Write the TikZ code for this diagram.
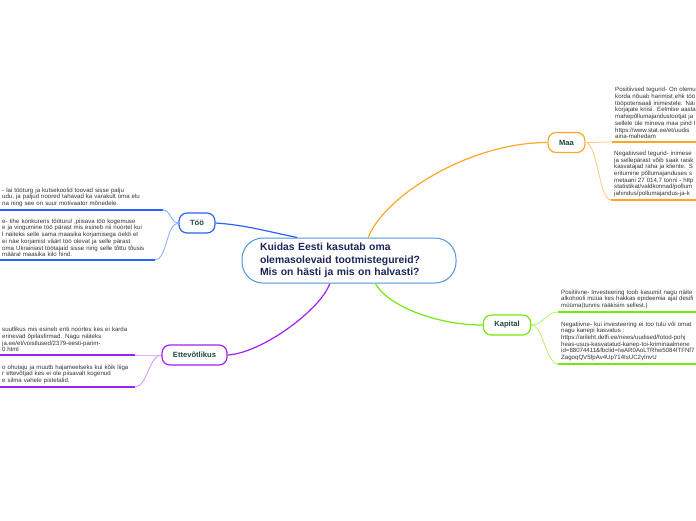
\documentclass[tikz,border=0pt]{standalone}
\usepackage{fontspec}
\setmainfont{Liberation Sans}
\usepackage{tikz}
\definecolor{tooblue}{RGB}{41,98,255}
\definecolor{toolight}{RGB}{135,168,255}
\definecolor{maaorange}{RGB}{255,166,38}
\definecolor{maalight}{RGB}{255,202,125}
\definecolor{kapgreen}{RGB}{118,232,10}
\definecolor{kaplight}{RGB}{178,242,112}
\definecolor{ettpurple}{RGB}{165,30,245}
\definecolor{ettlight}{RGB}{212,145,255}
\definecolor{centerblue}{RGB}{80,150,215}
\definecolor{navytext}{RGB}{28,40,90}
\definecolor{labeltext}{RGB}{30,72,62}
\definecolor{topictext}{RGB}{50,50,50}
\tikzstyle{central} = [rectangle, rounded corners=21pt, minimum width=214pt, minimum height=45pt,
                        draw=centerblue, line width=1pt, fill=white, text=navytext,
                        font=\bfseries\fontsize{10.4}{12.5}\selectfont, text width=178pt, align=left]
\tikzstyle{mainbox} = [rectangle, rounded corners=8pt, minimum height=20pt, inner xsep=11pt,
                        line width=1.2pt, fill=white, text=labeltext,
                        font=\bfseries\fontsize{7.6}{9}\selectfont]
\tikzstyle{topic}   = [anchor=south west, inner xsep=3pt, inner ysep=3pt, text width=170pt,
                        align=left, text=topictext, font=\fontsize{6.1}{6.7}\selectfont]
\tikzstyle{branch}  = [line width=1.2pt]
\tikzstyle{twig}    = [line width=0.8pt]
\tikzstyle{uline}   = [line width=1.8pt]

\begin{document}
\begin{tikzpicture}[x=1pt, y=-1pt]
  \useasboundingbox (0,0) rectangle (696,520);
  \clip (0,0) rectangle (696,520);

  % --- Centre ---
  \node (centre) [central] at (349,260.5)
        {Kuidas Eesti kasutab oma\\olemasolevaid tootmistegureid?\\Mis on hästi ja mis on halvasti?};

  % --- Main topics ---
  \node (tooo)    [mainbox, draw=tooblue]   at (197,223)   {Töö};
  \node (maa)     [mainbox, draw=maaorange] at (566.5,142.5) {Maa};
  \node (kapital) [mainbox, draw=kapgreen]  at (507,325)   {Kapital};
  \node (ettev)   [mainbox, draw=ettpurple] at (194.5,355) {Ettevõtlikus};

  % --- Töö ---
  \node (tt1) [topic] at (-1,210)
        {- lai tööturg ja kutsekoolid toovad sisse palju\\
         udu, ja paljud noored tahavad ka varakult oma elu\\
         na ning see on suur motivaator mõnedele.};
  \coordinate (tt1end) at (163,210);
  \node (tt2) [topic] at (-1,260)
        {e- tihe konkurens tööturul ,piisava töö kogemuse\\
         e ja vingumine töö pärast mis esineb nii noortel kui\\
         l näiteks selle sama maasika korjamisega öeldi et\\
         ei näe korjamist väärt töö olevat ja selle pärast\\
         oma Ukrainiast töötajaid sisse ning selle tõttu tõusis\\
         määral maasika kilo hind.};
  \coordinate (tt2end) at (155,260);

  % --- Maa ---
  \node (mt1) [topic, text width=110pt] at (612,142)
        {Positiivsed tegurid- On olemu\\
         korda nõuab harimist ehk töö\\
         tööpotensaali inimestele. Näi\\
         korjajate kriisi. Eelmise aasta\\
         mahepõllumajandustootjat ja\\
         sellele üle mineva maa pind l\\
         https://www.stat.ee/et/uudis\\
         aina-mahedam};
  \node (mt2) [topic, text width=110pt] at (611,200)
        {Negatiivsed tegurid-  inimese\\
         ja sellepärast  võib saak raisk\\
         kasvatajad raha ja kliente. S\\
         eritumine põllumajanduses s\\
         metaani 27 014,7 tonni - http\\
         statistikat/valdkonnad/pollum\\
         jahindus/pollumajandus-ja-k};

  % --- Kapital ---
  \node (kt1) [topic, text width=170pt] at (558,312)
        {Positiivne- Investeering toob kasumit nagu näite\\
         alkohooli müüa kes hakkas epideemia ajal desifi\\
         müüma(tunnis rääkisim sellest.)};
  \node (kt2) [topic, text width=170pt] at (558,364)
        {Negatiivne- kui investeering ei too tulu või omat\\
         nagu kanepi kasvatus :\\
         https://arileht.delfi.ee/news/uudised/fotod-pohj\\
         heas-usus-kasvatatud-kanep-toi-kriminaalmene\\
         id=88074411\&fbclid=IwAR0AoLTRhw5084ITFNf7\\
         ZagoqQV5fpAv4Up714IsUC2yInvU};

  % --- Ettevõtlikus ---
  \node (et1) [topic] at (-1,355)
        {suutlikus mis esineb eriti noortes kes ei karda\\
         erinevad õpilasfirmad. Nagu näiteks\\
         ja.ee/et/voistlused/2379-eesti-parim-\\
         0.html};
  \coordinate (et1end) at (135,355);
  \node (et2) [topic] at (-1,387)
        {o ohutaju ja muutb hajameelseks kui kõik liiga\\
         r ettevõtjad kes ei ole piisavalt kogenud\\
         e silma vahele pistetalid.};
  \coordinate (et2end) at (135,387);

  % Branches
  \draw[branch, tooblue]   (centre.156) .. controls +(-30,-6) and +(30,2) .. (tooo.east);
  \draw[branch, maaorange] (centre.50)  .. controls +(15,-40) and +(-80,0) .. (maa.west);
  \draw[branch, kapgreen]  (centre.-41) .. controls +(10,20) and +(-50,0) .. (kapital.west);
  \draw[branch, ettpurple] (centre.230) .. controls +(-8,25) and +(35,-2) .. (ettev.east);

  % Underlines and twigs
  \draw[uline, tooblue]  (tt1.south west) -- (tt1end);
  \draw[twig, toolight]  (tt1end) .. controls +(8,0) and +(-8,0) .. (tooo.west);
  \draw[uline, tooblue]  (tt2.south west) -- (tt2end);
  \draw[twig, toolight]  (tt2end) .. controls +(12,0) and +(-12,0) .. (tooo.west);

  \draw[uline, maaorange] (mt1.south west) -- (mt1.south east);
  \draw[twig, maalight]   (maa.east) .. controls +(10,0) and +(-10,0) .. (mt1.south west);
  \draw[uline, maaorange] (mt2.south west) -- (mt2.south east);
  \draw[twig, maalight]   (maa.east) .. controls +(12,0) and +(-12,0) .. (mt2.south west);

  \draw[uline, kapgreen] (kt1.south west) -- (kt1.south east);
  \draw[twig, kaplight]  (kapital.east) .. controls +(12,0) and +(-12,0) .. (kt1.south west);
  \draw[uline, kapgreen] (kt2.south west) -- (kt2.south east);
  \draw[twig, kaplight]  (kapital.east) .. controls +(12,0) and +(-12,0) .. (kt2.south west);

  \draw[uline, ettpurple] (et1.south west) -- (et1end);
  \draw[twig, ettlight]   (et1end) .. controls +(10,0) and +(-10,0) .. (ettev.west);
  \draw[uline, ettpurple] (et2.south west) -- (et2end);
  \draw[twig, ettlight]   (et2end) .. controls +(12,0) and +(-12,0) .. (ettev.west);

\end{tikzpicture}
\end{document}
